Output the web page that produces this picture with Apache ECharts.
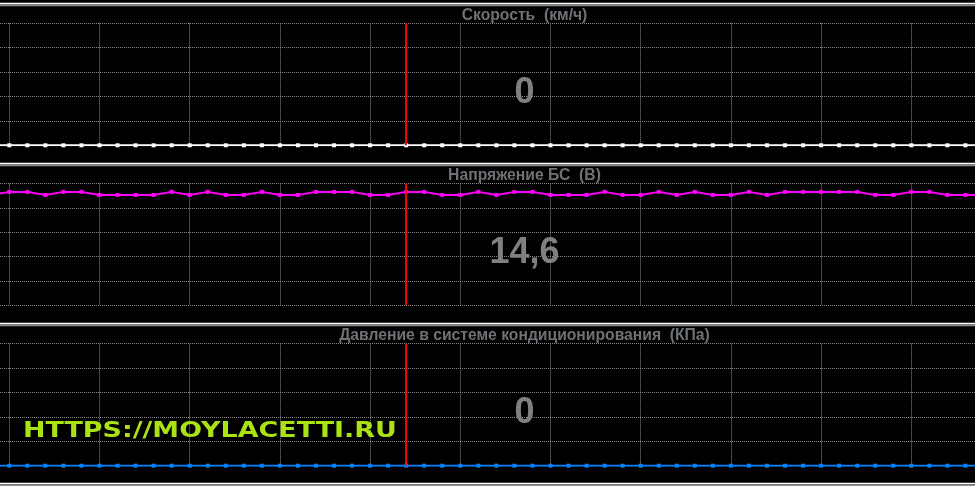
<!DOCTYPE html>
<html><head><meta charset="utf-8">
<script src="https://cdn.jsdelivr.net/npm/echarts@6/dist/echarts.min.js"></script>
<style>html,body{margin:0;padding:0;background:#000}#c{width:975px;height:486px}</style>
</head><body><div id="c"></div>
<script>
const panelTitles = ['Скорость  (км/ч)', 'Напряжение БС  (В)', 'Давление в системе кондиционирования  (КПа)'];
const currentReadouts = ['0', '14,6', '0'];
const watermarkText = 'HTTPS://MOYLACETTI.RU';
const sampleIndex = [-1,0,1,2,3,4,5,6,7,8,9,10,11,12,13,14,15,16,17,18,19,20,21,22,23,24,25,26,27,28,29,30,31,32,33,34,35,36,37,38,39,40,41,42,43,44,45,46,47,48,49,50,51,52,53,54];
const speed = [0,0,0,0,0,0,0,0,0,0,0,0,0,0,0,0,0,0,0,0,0,0,0,0,0,0,0,0,0,0,0,0,0,0,0,0,0,0,0,0,0,0,0,0,0,0,0,0,0,0,0,0,0,0,0,0];
const voltage = [14.5,
  14.9,14.9,14.5,14.9,14.9,14.5,14.5,14.5,14.5,14.9,
  14.5,14.9,14.5,14.5,14.9,14.5,14.5,14.9,14.9,14.9,
  14.5,14.5,14.9,14.9,14.5,14.5,14.9,14.5,14.9,14.9,
  14.5,14.5,14.5,14.9,14.5,14.5,14.9,14.5,14.9,14.5,
  14.5,14.9,14.5,14.9,14.9,14.9,14.9,14.9,14.5,14.5,
  14.9,14.9,14.5,14.5,14.5];
const pressure = [0,0,0,0,0,0,0,0,0,0,0,0,0,0,0,0,0,0,0,0,0,0,0,0,0,0,0,0,0,0,0,0,0,0,0,0,0,0,0,0,0,0,0,0,0,0,0,0,0,0,0,0,0,0,0,0];
const cursorIndex = 22;
const xVisibleMin = -0.5155;
const xVisibleMax = 53.53;
const yMax = [100, 16, 2500];
const yInterval = [20, 3.2, 500];
const lineColors = ['#ffffff', '#ff00ff', '#0a80ff'];
const seriesValues = [speed, voltage, pressure];

const PANEL_STEP = 160.2;
const GRID_COLOR = '#8a8a8a';
const chart = echarts.init(document.getElementById('c'), null, {renderer: 'canvas'});
const grids = [], xAxes = [], yAxes = [], series = [], graphics = [];
const hidden = {axisLine: {show: false}, axisTick: {show: false}, axisLabel: {show: false}};
for (let p = 0; p < 3; p++) {
  const top = 23.3 + PANEL_STEP * p;
  // grid for vertical grid lines (sample 0 at its left edge)
  grids.push({left: 9.3, right: 0, top: top, height: 122});
  xAxes.push(Object.assign({type: 'value', gridIndex: 2 * p, min: 0, max: xVisibleMax, interval: 5,
    splitLine: {show: true, showMaxLine: false, lineStyle: {color: GRID_COLOR, width: 1, type: [1, 1]}}}, hidden));
  yAxes.push(Object.assign({type: 'value', gridIndex: 2 * p, min: 0, max: yMax[p], interval: yInterval[p],
    splitLine: {show: false}}, hidden));
  // full-width data grid (horizontal grid lines)
  grids.push({left: 0, right: 0, top: top, height: 122});
  xAxes.push(Object.assign({type: 'value', gridIndex: 2 * p + 1, min: xVisibleMin, max: xVisibleMax, splitLine: {show: false}}, hidden));
  yAxes.push(Object.assign({type: 'value', gridIndex: 2 * p + 1, min: 0, max: yMax[p], interval: yInterval[p],
    splitLine: {show: true, lineStyle: {color: GRID_COLOR, width: 1, type: [1, 1]}}}, hidden));

  series.push({type: 'line', xAxisIndex: 2 * p + 1, yAxisIndex: 2 * p + 1,
    data: sampleIndex.map((x, i) => [x, seriesValues[p][i]]),
    symbol: 'rect', symbolSize: 4, showSymbol: true,
    lineStyle: {color: lineColors[p], width: 2},
    itemStyle: {color: lineColors[p]},
    clip: true, animation: false, z: 3,
    markLine: {silent: true, symbol: ['none', 'none'], animation: false,
      label: {show: false},
      lineStyle: {color: '#ff0000', width: 2, type: 'solid', opacity: 1},
      data: [{xAxis: cursorIndex}]}});
  graphics.push({type: 'text', x: 524.5, y: 15.5 + PANEL_STEP * p, z: 10,
    style: {text: panelTitles[p], fill: '#6e7276', font: 'bold 15.7px "Liberation Sans", Arial, sans-serif',
      align: 'center', verticalAlign: 'middle'}});
  graphics.push({type: 'text', x: 524.5, y: 93 + PANEL_STEP * p, z: 10,
    style: {text: currentReadouts[p], fill: '#808080', font: 'bold 36px "Liberation Sans", Arial, sans-serif',
      align: 'center', verticalAlign: 'middle'}});
}
for (let s = 0; s < 4; s++) {
  graphics.push({type: 'rect', shape: {x: 0, y: 2.7 + 160 * s, width: 975, height: 1.5}, style: {fill: '#ffffff'}, z: 10});
  graphics.push({type: 'rect', shape: {x: 0, y: 4.2 + 160 * s, width: 975, height: 2}, style: {fill: '#8c8c8c'}, z: 10});
}
graphics.push({type: 'text', x: 23, y: 431.5, scaleX: 1.17, scaleY: 0.95, z: 10,
  style: {text: watermarkText, fill: '#aae214', font: 'bold 23px "DejaVu Sans", sans-serif',
    align: 'left', verticalAlign: 'middle', textShadowColor: '#5a2a00', textShadowOffsetX: 2, textShadowOffsetY: 1, textShadowBlur: 0}});

chart.setOption({
  backgroundColor: '#000000',
  animation: false,
  grid: grids, xAxis: xAxes, yAxis: yAxes, series: series,
  graphic: {elements: graphics}
});
</script></body></html>
